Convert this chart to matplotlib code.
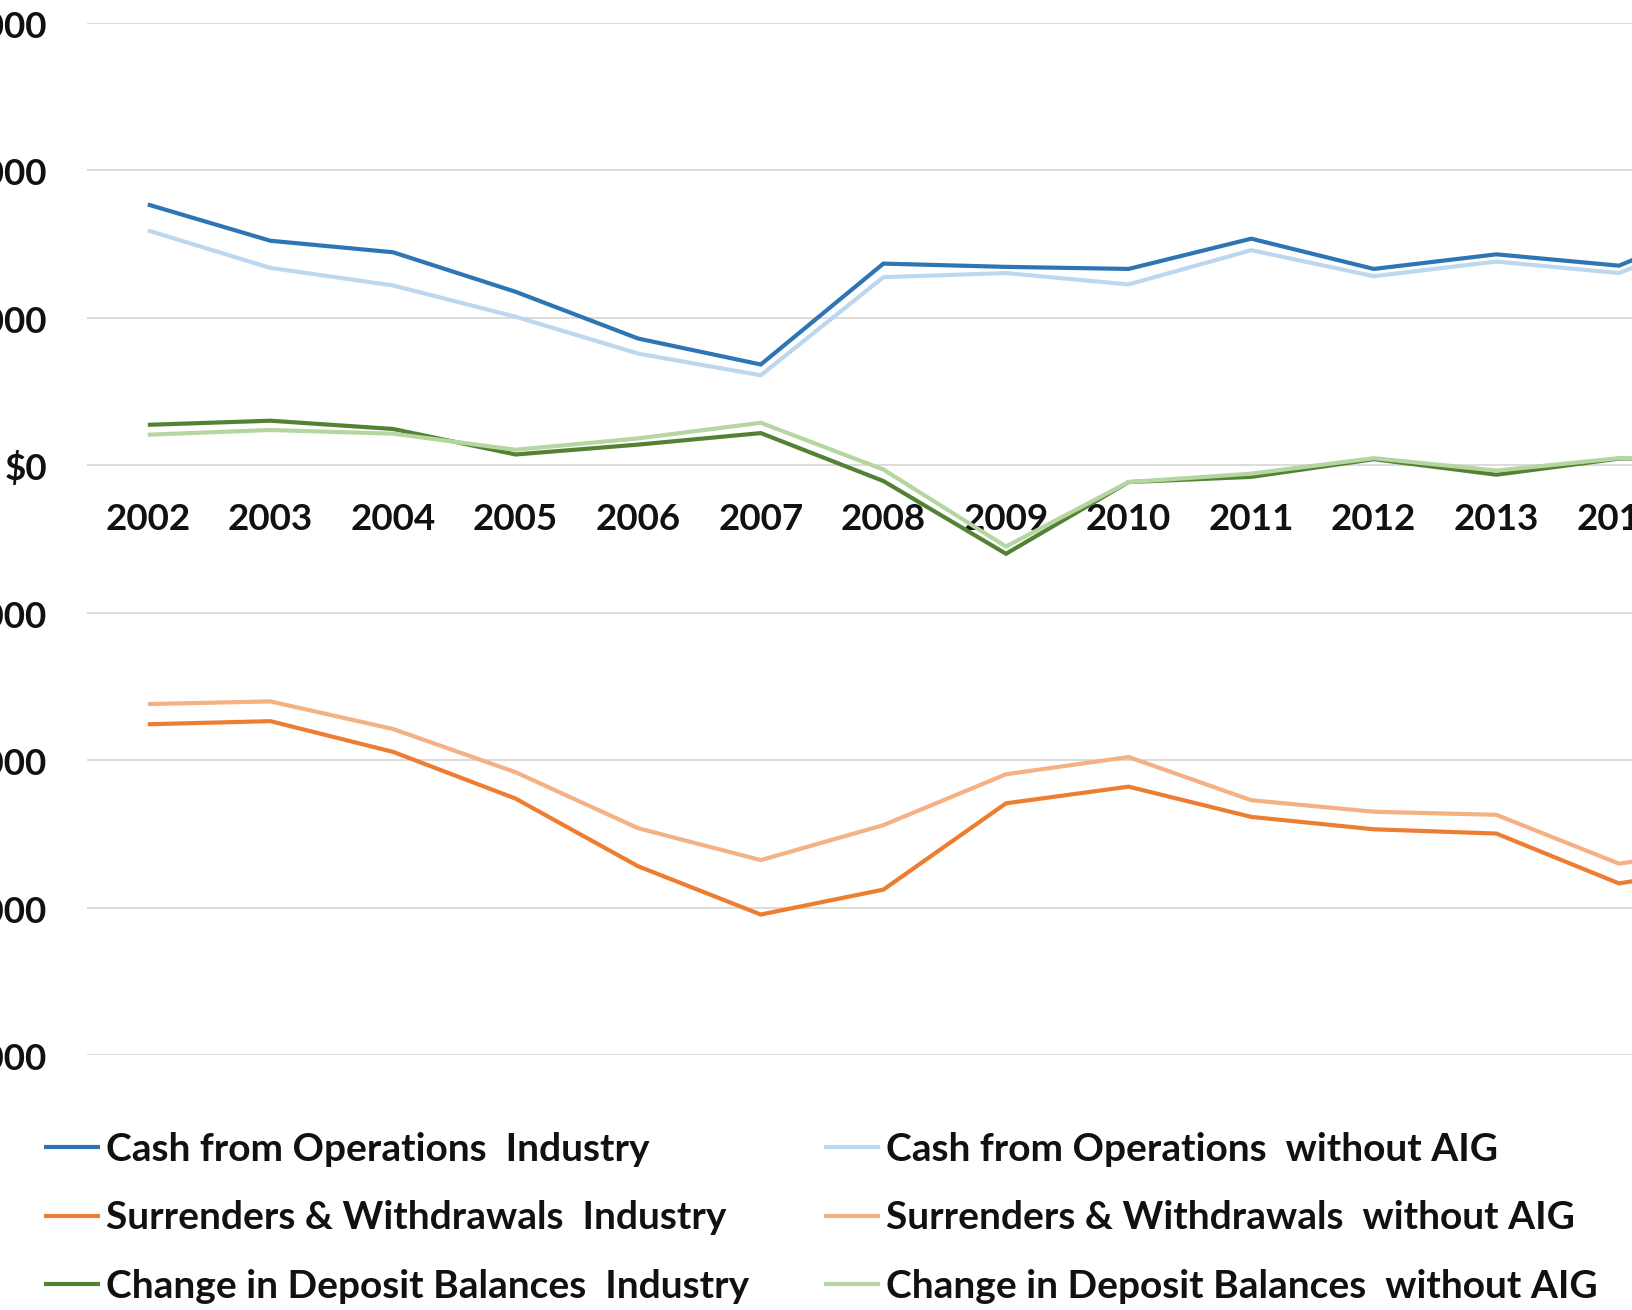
import matplotlib
matplotlib.use("Agg")
import matplotlib.pyplot as plt
from matplotlib.ticker import FuncFormatter, FixedLocator

years = [str(y) for y in range(2002, 2016)]

cash_industry = [17690, 15230, 14450, 11770, 8600, 6840, 13680, 13460, 13320, 15370, 13320, 14310, 13540, 17000]
cash_wo_aig = [15930, 13390, 12200, 10080, 7580, 6110, 12760, 13040, 12270, 14590, 12830, 13820, 13040, 16300]
surr_industry = [-17550, -17340, -19420, -22590, -27180, -30450, -28760, -22910, -21780, -23830, -24670, -24960, -28340, -27000]
surr_wo_aig = [-16180, -16000, -17870, -20800, -24600, -26760, -24390, -20940, -19770, -22700, -23480, -23690, -27000, -25800]
chg_industry = [2750, 3030, 2470, 740, 1410, 2190, -1060, -5990, -1130, -780, 420, -630, 460, 600]
chg_wo_aig = [2080, 2400, 2150, 1060, 1830, 2890, -280, -5500, -1130, -560, 490, -350, 490, 600]

y_ticks = [-40000, -30000, -20000, -10000, 0, 10000, 20000, 30000]

series = [
    ("Cash from Operations  Industry", cash_industry, "#2e75b6"),
    ("Cash from Operations  without AIG", cash_wo_aig, "#bdd7ee"),
    ("Surrenders & Withdrawals  Industry", surr_industry, "#ed7d31"),
    ("Surrenders & Withdrawals  without AIG", surr_wo_aig, "#f4b183"),
    ("Change in Deposit Balances  Industry", chg_industry, "#548235"),
    ("Change in Deposit Balances  without AIG", chg_wo_aig, "#b5d6a0"),
]

FONT = "Lato"
FS = 26.5
LFS = 28

W, H = 1632, 1310
fig = plt.figure(figsize=(W / 100, H / 100), dpi=100)

step = 122.6
x0 = 147.8
ax_left = x0 - step / 2
n_span = 15
ax_right = ax_left + n_span * step
y_top = 22.9
y_bot = 1055.4
ax = fig.add_axes([ax_left / W, 1 - y_bot / H, (ax_right - ax_left) / W, (y_bot - y_top) / H])

xs = list(range(len(years)))
handles = {}
for label, vals, color in series:
    (ln,) = ax.plot(xs, vals, color=color, lw=3.0, solid_joinstyle="miter", solid_capstyle="butt", label=label)
    handles[label] = ln

ax.set_xlim(-0.5, n_span - 0.5)
ax.set_ylim(-40000, 30000)
ax.yaxis.set_major_locator(FixedLocator(y_ticks))
def fmt(v, pos):
    v = int(round(v))
    if v < 0:
        return "-${:,}".format(-v)
    return "${:,}".format(v)
ax.yaxis.set_major_formatter(FuncFormatter(fmt))
ax.grid(axis="y", color="#d9d9d9", lw=1.3)
ax.set_axisbelow(True)
for s in ax.spines.values():
    s.set_visible(False)
ax.spines["bottom"].set_position(("data", 0))
ax.set_xticks(xs)
ax.set_xticklabels(years)
ax.tick_params(axis="both", length=0)
ax.tick_params(axis="x", pad=27)
ax.tick_params(axis="y", pad=28)
for t in ax.get_xticklabels() + ax.get_yticklabels():
    t.set_fontfamily(FONT)
    t.set_fontweight("bold")
    t.set_fontsize(FS)
    t.set_color("#111111")

col1 = [series[0][0], series[2][0], series[4][0]]
col2 = [series[1][0], series[3][0], series[5][0]]
for col, xpix in ((col1, 44), (col2, 824)):
    leg = fig.legend([handles[c] for c in col], col, loc="upper left",
                     bbox_to_anchor=(xpix / W, 1 - 1132 / H), frameon=False,
                     borderpad=0, borderaxespad=0, handlelength=1.45, handletextpad=0.14,
                     labelspacing=0.86,
                     prop={"family": FONT, "weight": "bold", "size": LFS})
    for t in leg.get_texts():
        t.set_color("#111111")

fig.savefig("out.png", dpi=100)
